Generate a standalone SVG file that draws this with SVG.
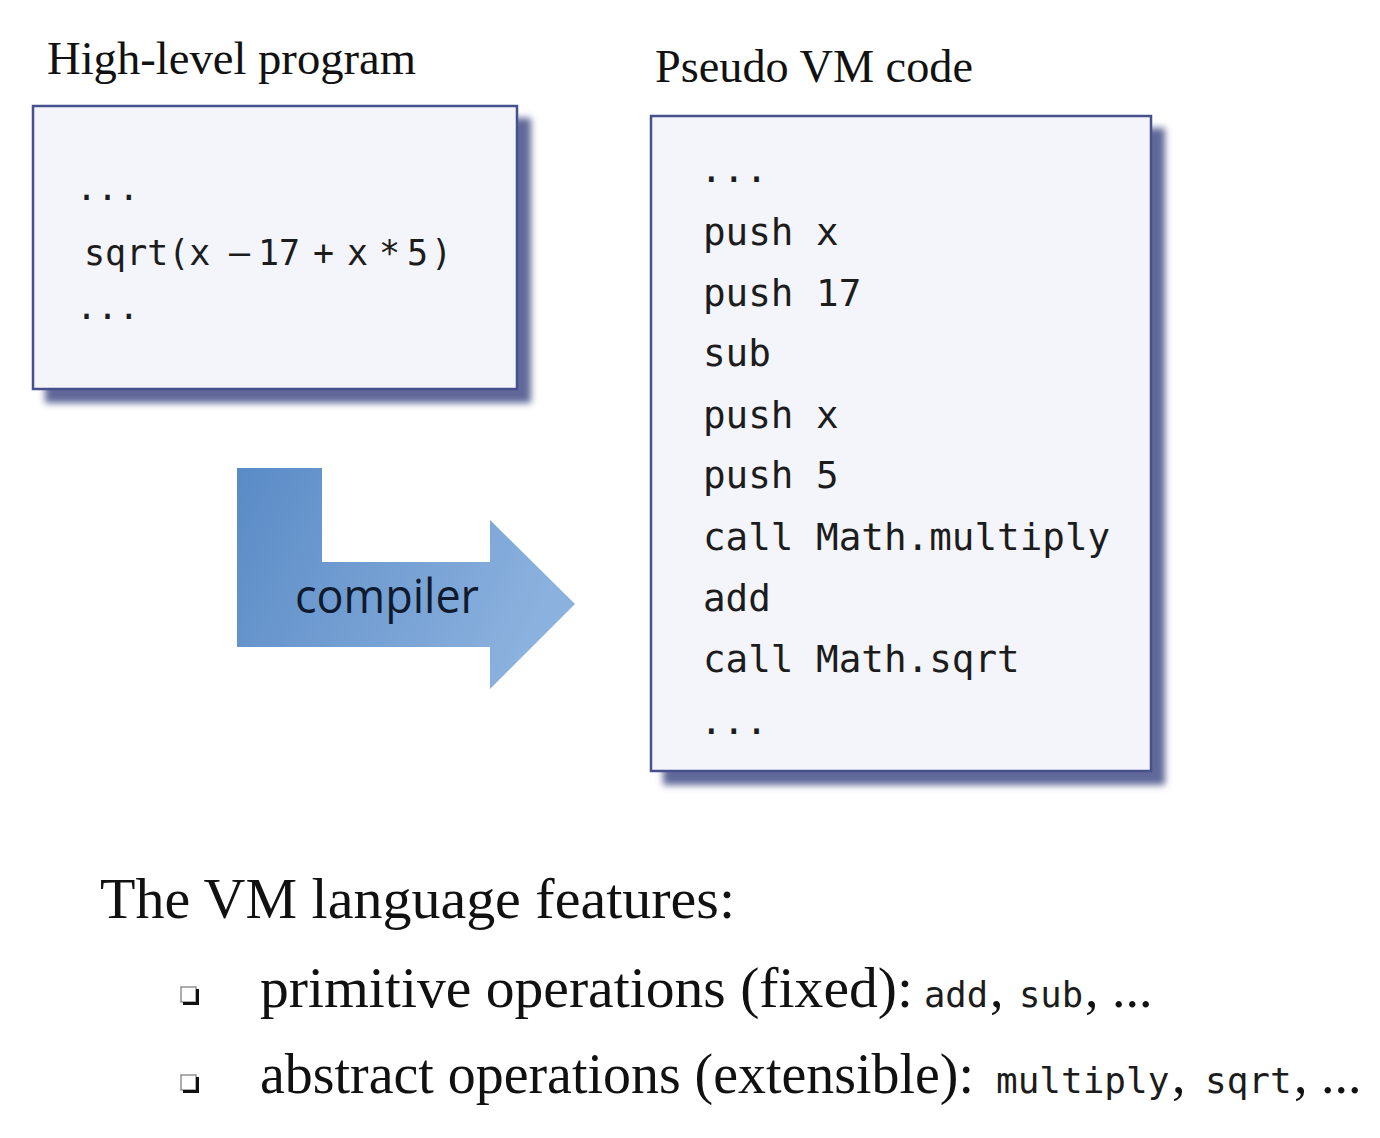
<svg xmlns="http://www.w3.org/2000/svg" width="1380" height="1138" viewBox="0 0 1380 1138">
  <defs>
    <filter id="shadowBlur" x="-10%" y="-10%" width="130%" height="130%">
      <feGaussianBlur stdDeviation="3.5"/>
    </filter>
    <linearGradient id="arrowGrad" x1="0" y1="0" x2="1" y2="0.3">
      <stop offset="0" stop-color="#5a8bc6"/>
      <stop offset="1" stop-color="#8bb1de"/>
    </linearGradient>
  </defs>
  <style>
    .serif { font-family: "Liberation Serif", "Times New Roman", serif; fill: #111; }
    .mono { font-family: "DejaVu Sans Mono", "Liberation Mono", monospace; fill: #1c1c1c; }
    .box { fill: #f4f4fb; stroke: #46508c; stroke-width: 2.5; }
    .shadow { fill: #5f6898; filter: url(#shadowBlur); }
    .label { font-family: "Open Sans", "Noto Sans", sans-serif; fill: #0f1a2e; }
  </style>
  <rect width="1380" height="1138" fill="#ffffff"/>

  <g id="title-high-level">
    <text class="serif" x="47" y="74" font-size="47" textLength="369" lengthAdjust="spacingAndGlyphs">High-level  program</text>
  </g>
  <g id="title-pseudo-vm">
    <text class="serif" x="655" y="82" font-size="47" textLength="318" lengthAdjust="spacingAndGlyphs">Pseudo VM code</text>
  </g>

  <g id="node-high-level">
    <rect class="shadow" x="45" y="118" width="486" height="285"/>
    <rect class="box" x="33" y="106" width="484" height="283"/>
    <text class="mono" x="76" y="200" font-size="35">...</text>
    <text class="mono" y="265" font-size="35"><tspan x="84">sqrt(x</tspan><tspan x="229">–</tspan><tspan x="258">17</tspan><tspan x="313">+</tspan><tspan x="347">x</tspan><tspan x="379">*</tspan><tspan x="407">5</tspan><tspan x="431">)</tspan></text>
    <text class="mono" x="76" y="319" font-size="35">...</text>
  </g>

  <g id="connectors">
    <g id="compiler-arrow">
      <path d="M237,468 L322,468 L322,562 L490,562 L490,520 L575,604 L490,689 L490,647 L237,647 Z" fill="url(#arrowGrad)"/>
      <text class="label" x="295" y="613" font-size="48" textLength="184" lengthAdjust="spacingAndGlyphs">compiler</text>
    </g>
  </g>

  <g id="node-pseudo-vm">
    <rect class="shadow" x="663" y="128" width="502" height="657"/>
    <rect class="box" x="651" y="116" width="500" height="655"/>
    <g class="mono" font-size="37.6">
      <text x="700" y="182">...</text>
      <text x="703" y="245">push x</text>
      <text x="703" y="306">push 17</text>
      <text x="703" y="366">sub</text>
      <text x="703" y="428">push x</text>
      <text x="703" y="488">push 5</text>
      <text x="703" y="550">call Math.multiply</text>
      <text x="703" y="611">add</text>
      <text x="703" y="672">call Math.sqrt</text>
      <text x="700" y="734">...</text>
    </g>
  </g>

  <g id="features">
    <text class="serif" x="100" y="918" font-size="58" textLength="635" lengthAdjust="spacingAndGlyphs">The VM language features:</text>

    <g id="bullet-1">
      <rect x="181" y="987" width="15" height="15" fill="#ffffff" stroke="#777" stroke-width="1.2"/>
      <path d="M183,1003.5 H199 M197.5,989 V1005" stroke="#111" stroke-width="3" fill="none"/>
    </g>
    <text class="serif" x="260" y="1007" font-size="56" textLength="653" lengthAdjust="spacingAndGlyphs">primitive operations (fixed):</text>
    <text class="mono" x="924" y="1007" font-size="35.5">add</text>
    <text class="serif" x="990" y="1007" font-size="54">,</text>
    <text class="mono" x="1019" y="1007" font-size="35.5">sub</text>
    <text class="serif" x="1085" y="1007" font-size="54">, ...</text>

    <g id="bullet-2">
      <rect x="181" y="1075" width="15" height="15" fill="#ffffff" stroke="#777" stroke-width="1.2"/>
      <path d="M183,1091.5 H199 M197.5,1077 V1093" stroke="#111" stroke-width="3" fill="none"/>
    </g>
    <text class="serif" x="260" y="1093" font-size="56" textLength="714" lengthAdjust="spacingAndGlyphs">abstract operations (extensible):</text>
    <text class="mono" x="996" y="1093" font-size="36">multiply</text>
    <text class="serif" x="1172" y="1093" font-size="54">,</text>
    <text class="mono" x="1205" y="1093" font-size="36">sqrt</text>
    <text class="serif" x="1294" y="1093" font-size="54">, ...</text>
  </g>
</svg>
